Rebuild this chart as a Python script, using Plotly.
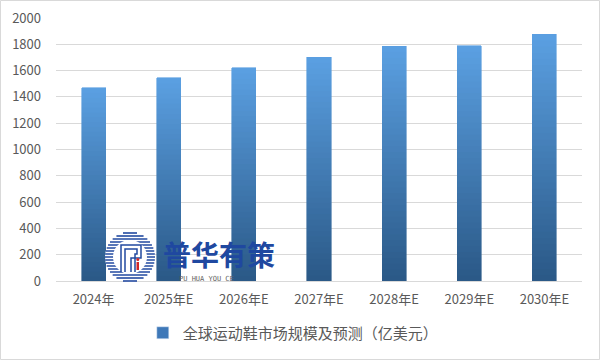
import math
import plotly.graph_objects as go

categories = ["2024年", "2025年E", "2026年E", "2027年E", "2028年E", "2029年E", "2030年E"]
values = [1468, 1544, 1620, 1703, 1787, 1788, 1878]
series_name = "全球运动鞋市场规模及预测（亿美元）"
y_ticks = [0, 200, 400, 600, 800, 1000, 1200, 1400, 1600, 1800, 2000]

FONT = "Noto Sans CJK SC, Liberation Sans, sans-serif"
N_SEG = 40
top_rgb = (91, 160, 226)
bot_rgb = (42, 88, 134)

fig = go.Figure()
for i in range(N_SEG):
    t = (i + 0.5) / N_SEG
    r = round(bot_rgb[0] + (top_rgb[0] - bot_rgb[0]) * t)
    g = round(bot_rgb[1] + (top_rgb[1] - bot_rgb[1]) * t)
    b = round(bot_rgb[2] + (top_rgb[2] - bot_rgb[2]) * t)
    fig.add_trace(go.Bar(
        x=categories,
        y=[v / N_SEG for v in values],
        marker=dict(color=f"rgb({r},{g},{b})", line=dict(width=0.6, color=f"rgb({r},{g},{b})")),
        showlegend=False,
        hoverinfo="skip",
    ))
# legend entry
fig.add_trace(go.Bar(
    x=categories, y=[None] * len(categories), name=series_name,
    marker=dict(color="rgb(62,120,184)"), showlegend=True,
))

W, H = 601, 361
L, R, T, B = 56, 19, 18, 80
PW, PH = W - L - R, H - T - B
YMAX = 2000


def px(x):
    return (x - L) / PW


def py(y):
    return (T + PH - y) / PH


def ydata(y):
    return py(y) * YMAX


LOGO_BLUE = "rgb(34,74,160)"
shapes = [dict(type="rect", xref="paper", yref="paper",
               x0=-(L - 0.5) / PW, x1=1 + (R - 1.5) / PW, y0=-(B - 1.5) / PH, y1=1 + (T - 0.5) / PH,
               line=dict(color="#d9d9d9", width=1), fillcolor="rgba(0,0,0,0)")]
# watermark logo (decorative)
cx, cy, rad = 130, 257, 25
shapes.append(dict(type="circle", xref="paper", yref="paper", layer="above",
                   x0=px(cx - rad), x1=px(cx + rad), y0=py(cy + rad), y1=py(cy - rad),
                   line=dict(width=0), fillcolor="white"))
for k in range(-8, 9):
    dy = k * 3
    if abs(dy) >= rad:
        continue
    hl = math.sqrt(rad * rad - dy * dy)
    shapes.append(dict(type="line", xref="paper", yref="paper", layer="above",
                       x0=px(cx - hl), x1=px(cx + hl), y0=py(cy + dy), y1=py(cy + dy),
                       line=dict(color=LOGO_BLUE, width=1.6)))
ri = 17
shapes.append(dict(type="circle", xref="paper", yref="paper", layer="above",
                   x0=px(cx - ri), x1=px(cx + ri), y0=py(cy + ri), y1=py(cy - ri),
                   line=dict(width=0), fillcolor="white"))
for off in (0, 4):
    path = (f"M {px(121 + off)} {py(272)} L {px(121 + off)} {py(245 + off)} "
            f"L {px(141 - off)} {py(245 + off)} L {px(141 - off)} {py(258 - off)} "
            f"L {px(131 + off)} {py(258 - off)} L {px(131 + off)} {py(272)}")
    shapes.append(dict(type="path", xref="paper", yref="paper", layer="above", path=path,
                       line=dict(color=LOGO_BLUE, width=1.5)))
shapes.append(dict(type="rect", xref="paper", yref="paper", layer="above",
                   x0=px(136.5), x1=px(139), y0=py(270), y1=py(262),
                   line=dict(width=0), fillcolor="rgb(210,40,40)"))
shapes.append(dict(type="circle", xref="paper", yref="paper", layer="above",
                   x0=px(136.3), x1=px(139.3), y0=py(261), y1=py(258),
                   line=dict(width=0), fillcolor="rgb(210,40,40)"))

fig.update_layout(
    barmode="stack",
    bargap=0.68,
    width=W, height=H,
    margin=dict(l=L, r=R, t=T, b=B),
    paper_bgcolor="white", plot_bgcolor="white",
    font=dict(family=FONT, color="#595959", size=13),
    xaxis=dict(showgrid=False, showline=True, linecolor="#d9d9d9", linewidth=1,
               ticks="", tickfont=dict(size=13, color="#595959"), ticklabelstandoff=6,
               fixedrange=True, automargin=False),
    yaxis=dict(range=[0, YMAX], tickvals=y_ticks, showgrid=True, gridcolor="#d9d9d9",
               gridwidth=1, zeroline=False, showline=False, ticks="",
               tickfont=dict(size=13, color="#595959"), ticklabelstandoff=14, fixedrange=True,
               automargin=False),
    legend=dict(orientation="h", x=0.488, xanchor="center", xref="container",
                y=(H - 333) / H, yanchor="middle", yref="container",
                font=dict(size=15, color="#595959"), itemwidth=30),
    shapes=shapes,
    annotations=[
        dict(text="<b>普华有策</b>", xref="paper", yref="y", x=px(161), y=ydata(254),
             xanchor="left", yanchor="middle", showarrow=False,
             font=dict(size=28, color="rgb(31,72,160)", family=FONT)),
        dict(text="PU HUA YOU CE", xref="paper", yref="y", x=px(178), y=ydata(278.5),
             xanchor="left", yanchor="middle", showarrow=False, borderpad=0,
             font=dict(size=7, color="rgb(100,100,100)", family="DejaVu Sans Mono")),
    ],
)

fig.write_html("out.html", config={"displayModeBar": False},
               post_script="document.body.style.margin='0';document.body.style.padding='0';")
